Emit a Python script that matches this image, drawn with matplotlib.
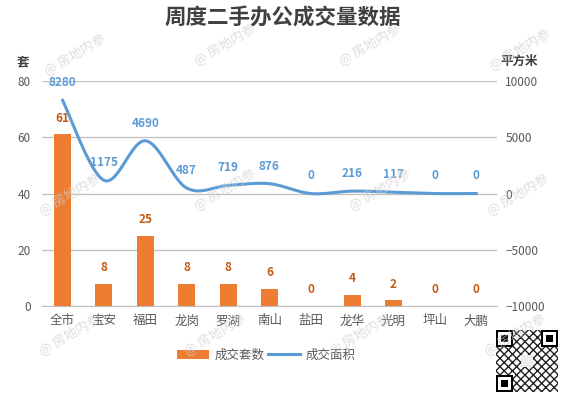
import numpy as np
import matplotlib
matplotlib.use("Agg")
import matplotlib.pyplot as plt
from matplotlib.patches import Rectangle

plt.rcParams['font.family'] = ['Noto Sans CJK SC', 'DejaVu Sans']

# data
districts = ['全市', '宝安', '福田', '龙岗', '罗湖', '南山', '盐田', '龙华', '光明', '坪山', '大鹏']
units = [61, 8, 25, 8, 8, 6, 0, 4, 2, 0, 0]
area = [8280, 1175, 4690, 487, 719, 876, 0, 216, 117, 0, 0]

bar_color = '#ED7D31'
line_color = '#5B9BD5'
text_gray = '#595959'


def smooth_curve(xs, ys, n=30):
    """Excel-like smoothed line (Catmull-Rom as cubic bezier)"""
    xs = np.asarray(xs, float)
    ys = np.asarray(ys, float)
    px = np.concatenate([[xs[0]], xs, [xs[-1]]])
    py = np.concatenate([[ys[0]], ys, [ys[-1]]])
    out_x, out_y = [], []
    t = np.linspace(0, 1, n)
    for i in range(1, len(px) - 2):
        p0 = np.array([px[i], py[i]])
        p3 = np.array([px[i + 1], py[i + 1]])
        c1 = p0 + (np.array([px[i + 1], py[i + 1]]) - np.array([px[i - 1], py[i - 1]])) / 6
        c2 = p3 - (np.array([px[i + 2], py[i + 2]]) - np.array([px[i], py[i]])) / 6
        b = ((1 - t) ** 3)[:, None] * p0 + (3 * (1 - t) ** 2 * t)[:, None] * c1 \
            + (3 * (1 - t) * t ** 2)[:, None] * c2 + (t ** 3)[:, None] * p3
        out_x.extend(b[:, 0])
        out_y.extend(b[:, 1])
    return np.array(out_x), np.array(out_y)


fig = plt.figure(figsize=(5.66, 3.97), dpi=100)
ax = fig.add_axes([0.074, 0.229, 0.804, 0.567])
ax2 = ax.twinx()

x = np.arange(len(districts))
ax.bar(x, units, width=0.41, color=bar_color, zorder=2, label='成交套数')
for xi, v in zip(x, units):
    ax.annotate(str(v), (xi, v), xytext=(0, 7), textcoords='offset points',
                ha='center', va='bottom', color='#C55A11', fontsize=8.5, fontweight='bold')

sx, sy = smooth_curve(x, area)
ax2.plot(sx, sy, color=line_color, lw=2.2, zorder=3, label='成交面积')
for xi, v in zip(x, area):
    ax2.annotate(str(v), (xi, v), xytext=(0, 8), textcoords='offset points',
                 ha='center', va='bottom', color=line_color, fontsize=8.5, fontweight='bold')

ax.set_xlim(-0.5, len(districts) - 0.5)
ax.set_ylim(0, 80)
ax.set_yticks([0, 20, 40, 60, 80])
ax2.set_ylim(-10000, 10000)
ax2.set_yticks([-10000, -5000, 0, 5000, 10000])
ax2.set_yticklabels(['\u221210000', '\u22125000', '0', '5000', '10000'])
ax.set_xticks(x)
ax.set_xticklabels(districts)

ax.grid(axis='y', color='#BFBFBF', lw=0.9, zorder=0)
for a in (ax, ax2):
    for s in a.spines.values():
        s.set_visible(False)
    a.tick_params(length=0, colors=text_gray, labelsize=8.5)
ax.spines['bottom'].set_visible(True)
ax.spines['bottom'].set_color('#BFBFBF')
ax.tick_params(axis='y', pad=8)
ax2.tick_params(axis='y', pad=6)
ax.tick_params(axis='x', pad=6, labelsize=9)

fig.text(0.5, 0.955, '周度二手办公成交量数据', ha='center', va='center',
         fontsize=15.5, fontweight='bold', color='#404040')
fig.text(0.04, 0.845, '套', ha='center', va='center', fontsize=9, fontweight='bold', color='#404040')
fig.text(0.918, 0.845, '平方米', ha='center', va='center', fontsize=9, fontweight='bold', color='#404040')

h1, l1 = ax.get_legend_handles_labels()
h2, l2 = ax2.get_legend_handles_labels()
fig.legend(h1 + h2, l1 + l2, loc='center', bbox_to_anchor=(0.47, 0.105), ncol=2,
           frameon=False, fontsize=9, labelcolor=text_gray, handlelength=2.6,
           columnspacing=0.3, handletextpad=0.4)

# watermarks
marks = [(75, 55), (225, 45), (370, 45), (520, 50),
         (70, 195), (225, 190), (380, 190), (518, 195),
         (70, 335), (215, 335), (360, 335), (515, 335)]
for mx, my in marks:
    fig.text(mx / 566, 1 - my / 397, '@ 房地内参', rotation=30, ha='center', va='center',
             fontsize=9.5, color='#D0D0D0', alpha=0.7, zorder=10)

# QR code placeholder (finder squares plus texture)
qr = fig.add_axes([496 / 566, 1 - 392 / 397, 62 / 566, 62 / 397])
qr.set_xlim(0, 25)
qr.set_ylim(0, 25)
qr.axis('off')
qr.add_patch(Rectangle((0, 0), 25, 25, facecolor='white', edgecolor='#222222',
                       hatch='xxxx', lw=0))
for fx, fy in [(0, 18), (18, 18), (0, 0)]:
    qr.add_patch(Rectangle((fx, fy), 7, 7, facecolor='black'))
    qr.add_patch(Rectangle((fx + 1, fy + 1), 5, 5, facecolor='white'))
    qr.add_patch(Rectangle((fx + 2, fy + 2), 3, 3, facecolor='black'))
qr.add_patch(Rectangle((10, 10), 5, 5, facecolor='#EEEEEE', edgecolor='none'))

fig.savefig('out.png', dpi=100)
